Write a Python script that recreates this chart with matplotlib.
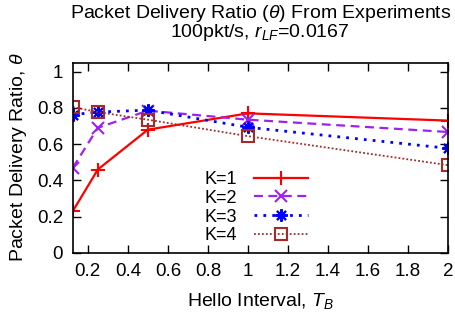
import matplotlib
matplotlib.use("Agg")
import matplotlib.pyplot as plt

plt.rcParams['font.family'] = ['Liberation Sans', 'DejaVu Sans']
plt.rcParams['mathtext.fontset'] = 'custom'
plt.rcParams['mathtext.it'] = 'Liberation Sans:italic'
plt.rcParams['mathtext.rm'] = 'Liberation Sans'

hello_interval = [0.125, 0.25, 0.5, 1.0, 2.0]
pdr_k1 = [0.23, 0.46, 0.68, 0.77, 0.73]
pdr_k2 = [0.47, 0.69, 0.785, 0.735, 0.667]
pdr_k3 = [0.763, 0.777, 0.788, 0.693, 0.577]
pdr_k4 = [0.805, 0.777, 0.735, 0.644, 0.484]
labels = ["K=1", "K=2", "K=3", "K=4"]
xticks = [0.2, 0.4, 0.6, 0.8, 1, 1.2, 1.4, 1.6, 1.8, 2]
yticks = [0, 0.2, 0.4, 0.6, 0.8, 1]

fig = plt.figure(figsize=(4.55, 3.18), dpi=100)
ax = fig.add_axes([0.160, 0.205, 0.825, 0.598])

ax.plot(hello_interval, pdr_k1, color='#ff0000', lw=1.6, ls='-', marker='+',
        ms=10, mew=1.5, label=labels[0])
ax.plot(hello_interval, pdr_k2, color='#a020f0', lw=1.6, ls=(0, (4, 2.5)), marker='x',
        ms=8, mew=1.5, label=labels[1])
ax.plot(hello_interval, pdr_k3, color='#0000ff', lw=2.0, ls=(0, (1, 2.2)), marker=(8, 2, 0),
        ms=9, mew=1.5, label=labels[2])
ax.plot(hello_interval, pdr_k4, color='#a52a2a', lw=1.3, ls=(0, (1, 1.2)), marker='s',
        ms=8, mew=1.5, mfc='none', label=labels[3])

ax.set_xlim(0.125, 2)
ax.set_ylim(0, 1.05)
ax.set_xticks(xticks)
ax.set_xticklabels([f"{t:g}" for t in xticks])
ax.set_yticks(yticks)
ax.set_yticklabels([f"{t:g}" for t in yticks])
ax.tick_params(direction='in', top=True, right=True, length=6, width=1, labelsize=13.5)
ax.tick_params(axis='x', pad=7.5)
ax.tick_params(axis='y', pad=7)
for s in ax.spines.values():
    s.set_linewidth(1.2)

fig.text(0.572, 1 - 306 / 318, r"Hello Interval, $T_B$", fontsize=14, ha='center', va='baseline')
fig.text(19 / 455, 0.505, r"Packet Delivery Ratio, $\theta$", fontsize=14,
         ha='center', va='center', rotation=90)
fig.text(0.572, 1 - 23 / 318,
         "Packet Delivery Ratio ($\\theta$) From Experiments\n100pkt/s, $r_{LF}$=0.0167",
         fontsize=14, ha='center', va='center', multialignment='center', linespacing=0.85)

leg = ax.legend(loc='lower right', bbox_to_anchor=(0.66, -0.022), markerfirst=False,
                frameon=False, fontsize=13, handlelength=3.0, handletextpad=0.9,
                labelspacing=0.1, borderpad=0.2)

fig.savefig("out.png", dpi=100)
